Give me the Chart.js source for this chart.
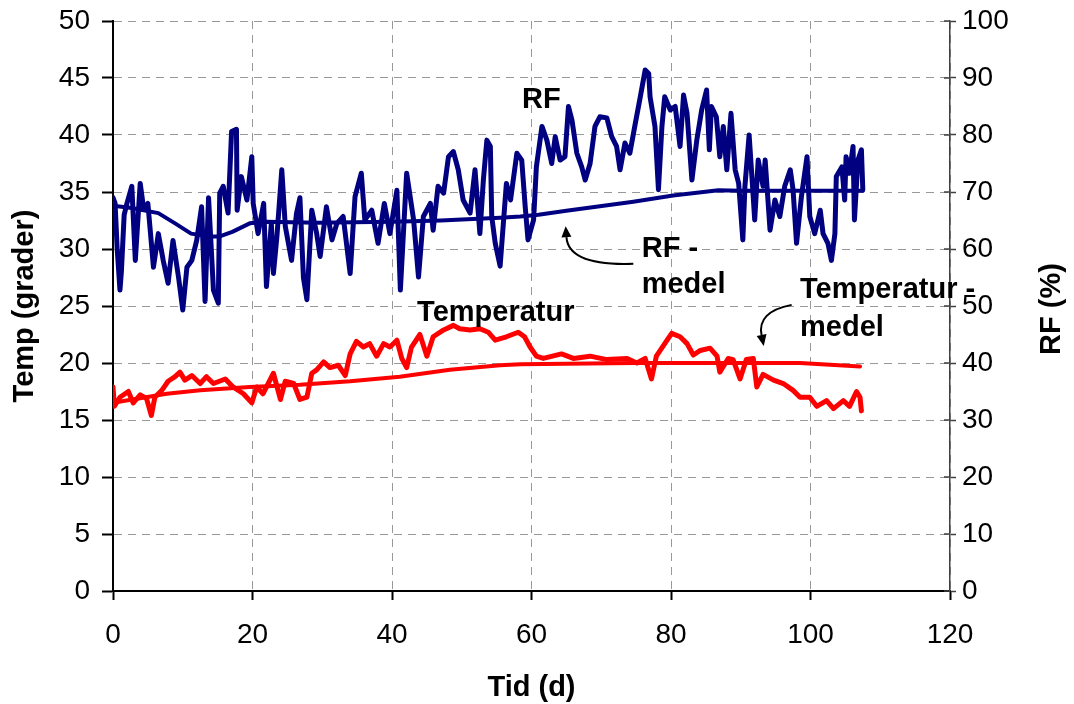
<!DOCTYPE html>
<html>
<head>
<meta charset="utf-8">
<script src="https://cdn.jsdelivr.net/npm/chart.js@4/dist/chart.umd.min.js"></script>
<style>
  html, body { margin: 0; padding: 0; background: #fff; }
  canvas { display: block; }
</style>
</head>
<body>
<canvas id="chart" width="1074" height="704"></canvas>
<script>
// RF (%) measured, day vs value
const rfDays = [0.0,0.3,0.6,1.0,1.2,1.6,2.0,2.7,3.2,3.9,
  4.4,5.0,5.8,6.5,7.2,7.9,8.6,9.4,10.0,10.6,
  11.3,12.0,12.7,13.2,13.7,14.4,15.1,15.3,15.8,16.5,
  17.0,17.7,17.8,18.4,19.2,19.9,20.1,20.8,21.6,22.0,
  22.7,23.0,23.5,24.2,24.7,25.6,26.3,26.8,27.3,27.8,
  28.5,29.2,29.7,30.6,31.4,32.1,33.0,34.0,34.7,35.6,
  36.1,37.1,38.0,38.9,39.7,40.7,41.2,42.1,43.1,43.8,
  44.5,45.5,45.9,46.6,47.4,48.1,48.8,49.5,50.2,51.2,
  51.9,52.6,53.1,53.6,54.1,54.3,54.8,55.5,56.4,57.0,
  57.9,58.6,59.1,59.5,60.3,60.7,61.5,62.2,62.9,63.4,
  64.1,64.8,65.3,65.8,66.5,67.2,67.7,68.4,69.1,69.8,
  70.8,71.5,72.2,72.7,73.4,74.1,74.8,75.6,76.3,76.8,
  77.0,77.7,78.2,78.7,79.1,79.9,80.6,81.3,81.8,82.3,
  83.0,83.7,84.4,85.1,85.5,85.8,86.5,87.0,87.5,88.0,
  88.6,89.2,89.7,90.3,90.6,91.2,91.6,92.0,92.5,93.2,
  93.5,94.2,94.9,95.6,96.3,97.1,97.5,98.0,98.7,99.5,
  99.9,100.6,101.4,101.8,102.5,103.0,103.5,103.7,104.5,104.9,
  105.1,105.6,106.1,106.3,106.8,107.3,107.5];
const rfValues = [69,68,60,52.8,56,66,68,71,58,71.5,
  67,68,56.8,62.7,58,54,61.5,55,49.3,56.8,
  58,61.5,67.4,50.8,69,52.8,50.5,69.8,71,66.3,
  80.6,81,66.8,72.7,68.6,76.2,68,62.7,68,53.4,
  64.5,55.7,62.2,73.9,64,58,66.2,69,55,51.1,
  66.8,62.7,58.7,67.4,61.6,64.5,65.7,55.7,69.2,73.3,
  65.1,66.8,61,68,62.7,70.3,52.8,73.3,65.1,55.1,
  65.7,68,63.3,71,69.8,76.2,77.1,73.9,68.6,66.3,
  73.9,62.7,72.1,79.1,78,65.7,61,57,71.5,68.6,
  76.8,75.6,67.4,61.6,65.1,74.4,81.5,79.1,75,79.7,
  75.6,76.2,85,82.6,76.8,74.4,72.1,75,81.5,83.2,
  83,79.7,78,73.9,78.6,76.8,81.5,86.7,91.4,90.8,
  86.7,81.5,70.4,81.5,86.7,84.4,85,78,87,83.8,
  72.1,79.1,84.4,87.9,77.4,85,83.2,76.2,81.5,73.9,
  83.8,73.9,71.5,61.6,71,80,72.7,65.1,75.6,71,
  75.6,63.3,68.6,65.7,71,73.9,70.4,61,69.2,76.2,
  65.7,62.7,66.8,62.7,61,58,62.7,72.7,74.4,68.6,
  76.2,73.3,78,65.1,75.6,77.4,70.4];

// RF running mean
const rfMeanDays = [0,2.7,6.5,8.9,11.2,13.9,15.3,17.1,19.6,22,29.2,40,47,50.8,55.5,58.4,61,65,74.6,80.3,86.8,90,107.5];
const rfMeanValues = [67.6,67.2,66.3,64.5,62.7,62.2,62.2,63.0,64.5,64.8,64.6,64.8,65.0,65.2,65.5,65.7,66.0,66.7,68.3,69.4,70.3,70.2,70.2];

// temperature (grader)
const tempDays = [0,0.2,1.0,2.2,2.9,3.9,4.8,5.5,6.0,7.0,
  7.9,8.9,9.6,10.3,11.3,12.5,13.4,14.4,16.1,17.2,
  18.7,19.9,20.6,21.5,23.0,24.0,24.7,25.9,26.8,27.8,
  28.5,29.2,30.2,31.1,32.3,33.3,34.0,34.9,35.9,36.8,
  37.8,38.8,39.7,40.7,41.4,42.1,42.8,44.0,45.0,45.9,
  47.4,48.8,49.7,51.2,52.6,53.8,54.8,56.4,58.1,59.0,
  59.8,60.7,61.7,64.3,66.0,68.4,70.8,73.7,75.1,76.3,
  77.2,77.9,79.1,80.1,81.3,82.3,83.2,84.2,85.6,86.6,
  87.0,88.2,88.9,89.9,90.8,91.8,92.3,93.2,94.7,96.1,
  97.5,98.5,99.9,100.9,102.3,103.3,104.7,105.6,106.6,107.1,
  107.3];
const tempValues = [17.9,16.2,17.0,17.5,16.5,17.2,16.9,15.4,17.0,17.6,
  18.4,18.8,19.2,18.5,18.9,18.2,18.8,18.2,18.6,17.9,
  17.3,16.5,17.9,17.3,19.1,16.8,18.4,18.2,16.8,17.0,
  19.1,19.4,20.1,19.6,19.8,18.9,20.8,21.9,21.4,21.7,
  20.6,21.7,21.4,22.0,20.4,19.6,21.4,22.5,20.6,22.3,
  22.9,23.3,23.0,22.9,23.0,22.7,22.0,22.3,22.7,22.3,
  21.4,20.6,20.4,20.8,20.4,20.6,20.3,20.4,20.0,20.4,
  18.6,20.6,21.7,22.6,22.3,21.7,20.7,21.1,21.3,20.6,
  19.2,20.4,20.3,18.6,20.3,20.4,17.9,19.0,18.5,18.2,
  17.6,17.0,17.0,16.2,16.7,16.0,16.7,16.2,17.5,17.0,
  15.8];

// temperature running mean
const tempMeanDays = [0,7.7,12.5,19.6,26.8,34,41.1,48.3,55.5,58.4,74.7,98.5,107.1];
const tempMeanValues = [16.5,17.3,17.6,17.9,18.1,18.4,18.8,19.4,19.8,19.9,20.0,20.0,19.7];

const FONT = 'Liberation Sans, Arial, Helvetica, sans-serif';
const NAVY = '#000080';
const RED = '#ff0000';

function pts(xs, ys) {
  return xs.map((x, i) => ({ x: x, y: ys[i] }));
}

// text labels and arrows placed in data units (day, temp)
const notes = [
  { text: 'RF', x: 61.4, y: 42.4, align: 'center' },
  { text: 'RF -', x: 75.8, y: 29.3, align: 'left' },
  { text: 'medel', x: 75.8, y: 26.1, align: 'left' },
  { text: 'Temperatur', x: 43.6, y: 23.7, align: 'left' },
  { text: 'Temperatur -', x: 98.5, y: 25.7, align: 'left' },
  { text: 'medel', x: 98.5, y: 22.4, align: 'left' }
];
const arrows = [
  { from: [74.6, 28.7], ctrl: [65.3, 28.5], to: [64.9, 32.0] },
  { from: [97.3, 25.1], ctrl: [92.3, 24.5], to: [93.3, 21.5] }
];

const extras = {
  id: 'extras',
  afterDraw(chart) {
    const ctx = chart.ctx;
    const xs = chart.scales.x, ys = chart.scales.y, y1 = chart.scales.y1;
    const area = chart.chartArea;

    // inner half of the right axis ticks
    ctx.save();
    ctx.strokeStyle = '#404040';
    ctx.lineWidth = 1.5;
    y1.ticks.forEach(t => {
      const py = y1.getPixelForValue(t.value);
      ctx.beginPath();
      ctx.moveTo(area.right - 6, py);
      ctx.lineTo(area.right, py);
      ctx.stroke();
    });
    ctx.restore();

    // right axis title, reading upwards
    ctx.save();
    ctx.font = 'bold 29px ' + FONT;
    ctx.fillStyle = '#000';
    ctx.textAlign = 'center';
    ctx.textBaseline = 'middle';
    ctx.translate(1052, (area.top + area.bottom) / 2 + 3);
    ctx.rotate(-Math.PI / 2);
    ctx.fillText('RF (%)', 0, 0);
    ctx.restore();

    // labels on the curves
    ctx.save();
    ctx.font = 'bold 29px ' + FONT;
    ctx.fillStyle = '#000';
    ctx.textBaseline = 'alphabetic';
    notes.forEach(n => {
      ctx.textAlign = n.align;
      ctx.fillText(n.text, xs.getPixelForValue(n.x), ys.getPixelForValue(n.y));
    });
    ctx.restore();

    // curved pointer arrows
    ctx.save();
    ctx.strokeStyle = '#000';
    ctx.fillStyle = '#000';
    ctx.lineWidth = 2;
    arrows.forEach(a => {
      const p0 = [xs.getPixelForValue(a.from[0]), ys.getPixelForValue(a.from[1])];
      const pc = [xs.getPixelForValue(a.ctrl[0]), ys.getPixelForValue(a.ctrl[1])];
      const p1 = [xs.getPixelForValue(a.to[0]), ys.getPixelForValue(a.to[1])];
      const ang = Math.atan2(p1[1] - pc[1], p1[0] - pc[0]);
      const len = 11, wid = 5;
      const bx = p1[0] - Math.cos(ang) * len, by = p1[1] - Math.sin(ang) * len;
      ctx.beginPath();
      ctx.moveTo(p0[0], p0[1]);
      ctx.quadraticCurveTo(pc[0], pc[1], bx, by);
      ctx.stroke();
      ctx.beginPath();
      ctx.moveTo(p1[0], p1[1]);
      ctx.lineTo(bx - Math.sin(ang) * wid, by + Math.cos(ang) * wid);
      ctx.lineTo(bx + Math.sin(ang) * wid, by - Math.cos(ang) * wid);
      ctx.closePath();
      ctx.fill();
    });
    ctx.restore();
  }
};

// fixed axis sizes so the plot area lands where it should
function fixVertical(width) {
  return s => {
    s.width = width;
    s.paddingTop = 0;
    s.paddingBottom = 0;
  };
}

Chart.defaults.font.family = FONT;
Chart.defaults.color = '#000';

const ctx = document.getElementById('chart').getContext('2d');
const chart = new Chart(ctx, {
  type: 'line',
  data: {
    datasets: [
      { label: 'RF', data: pts(rfDays, rfValues), yAxisID: 'y1',
        borderColor: NAVY, borderWidth: 5 },
      { label: 'RF - medel', data: pts(rfMeanDays, rfMeanValues), yAxisID: 'y1',
        borderColor: NAVY, borderWidth: 4 },
      { label: 'Temperatur', data: pts(tempDays, tempValues), yAxisID: 'y',
        borderColor: RED, borderWidth: 5 },
      { label: 'Temperatur - medel', data: pts(tempMeanDays, tempMeanValues), yAxisID: 'y',
        borderColor: RED, borderWidth: 4 }
    ]
  },
  options: {
    responsive: false,
    animation: false,
    events: [],
    layout: { padding: { top: 21, left: 0, right: 0, bottom: 0 } },
    elements: {
      point: { radius: 0 },
      line: { tension: 0, borderJoinStyle: 'round', borderCapStyle: 'round', fill: false }
    },
    plugins: { legend: { display: false }, tooltip: { enabled: false } },
    scales: {
      x: {
        type: 'linear', min: 0, max: 120,
        afterFit: s => { s.height = 113; },
        ticks: { stepSize: 20, font: { size: 28 }, padding: 18, maxRotation: 0 },
        grid: { color: '#999', lineWidth: 1, tickLength: 9, tickColor: '#000', tickWidth: 2, tickBorderDash: [] },
        border: { color: '#000', width: 2, dash: [8, 6] },
        title: { display: true, text: 'Tid (d)', font: { size: 29, weight: 'bold', lineHeight: 1.1 }, padding: { top: 0, bottom: 0 } }
      },
      y: {
        position: 'left', min: 0, max: 50,
        afterFit: fixVertical(113),
        ticks: { stepSize: 5, font: { size: 28 }, padding: 12 },
        grid: { color: '#999', lineWidth: 1, tickLength: 11, tickColor: '#000', tickWidth: 2, tickBorderDash: [] },
        border: { color: '#000', width: 2, dash: [8, 6] },
        title: { display: true, text: 'Temp (grader)', font: { size: 29, weight: 'bold', lineHeight: 1.1 }, padding: { top: 9, bottom: 0 } }
      },
      y1: {
        position: 'right', min: 0, max: 100,
        afterFit: fixVertical(124),
        ticks: { stepSize: 10, font: { size: 28 }, padding: 6 },
        grid: { drawOnChartArea: false, tickLength: 6, tickColor: '#404040', tickWidth: 1.5, tickBorderDash: [] },
        border: { color: '#404040', width: 1.5 }
      }
    }
  },
  plugins: [extras]
});
</script>
</body>
</html>
